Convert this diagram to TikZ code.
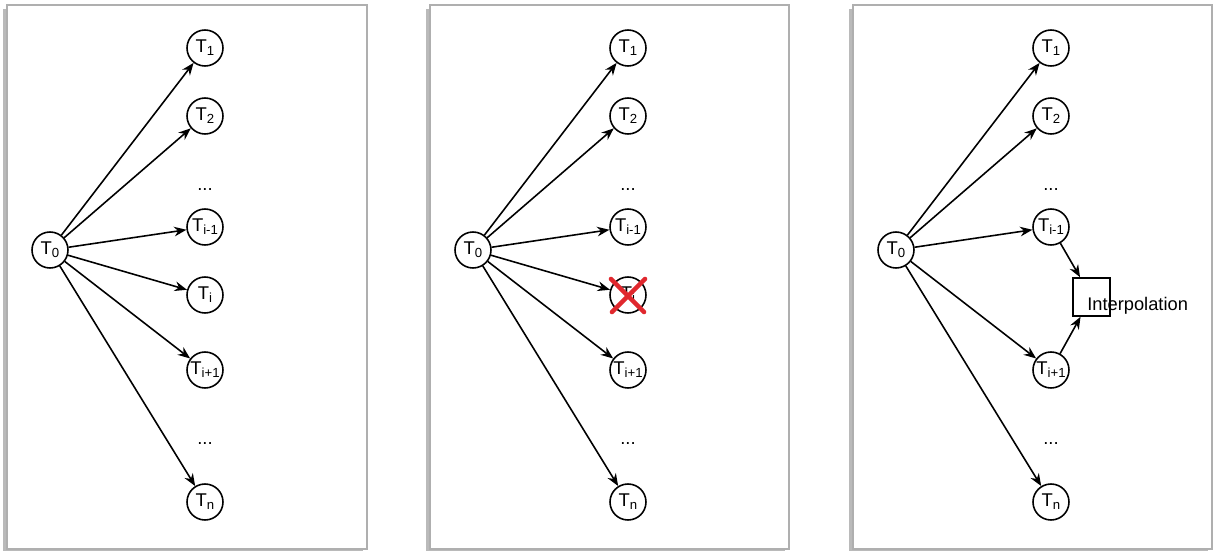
\documentclass[tikz,border=0pt]{standalone}
\usepackage{fontspec}
\setmainfont{Liberation Sans}
\usetikzlibrary{arrows.meta,shadows}
\definecolor{framegray}{RGB}{175,175,175}
\definecolor{crossred}{RGB}{224,40,46}
\newcommand{\tname}[1]{T\raisebox{-0.3ex}{\fontsize{7.5}{8}\selectfont #1}}

\begin{document}
\begin{tikzpicture}[
    x=0.02cm, y=-0.02cm,
    every node/.style={font=\fontsize{10.5}{12}\selectfont},
    panel/.style={draw=framegray, fill=white, line width=0.6pt, drop shadow={shadow xshift=-2.5pt, shadow yshift=-2pt, opacity=0.45, fill=black!60}},
    task/.style={circle, draw, line width=0.9pt, minimum size=0.72cm, inner sep=0pt},
    interp/.style={rectangle, draw, line width=0.9pt, minimum width=0.74cm, minimum height=0.76cm},
    gap/.style={anchor=base, inner sep=0pt},
    arrow/.style={line width=0.9pt,->,>={Stealth[length=7pt,width=5.5pt]}}
]
\useasboundingbox (0,0) rectangle (1218,551);

% Panels
\draw[panel] (7,5) rectangle (367,549);
\draw[panel] (430,5) rectangle (789,549);
\draw[panel] (853,5) rectangle (1212,549);

% Panel 1: all tasks
\node[task] (a0) at (50,250) {\tname{0}};
\node[task] (a1) at (205,48) {\tname{1}};
\node[task] (a2) at (205,116) {\tname{2}};
\node[gap] (a_dots1) at (205,190) {...};
\node[task] (a_im) at (205,227) {\tname{i-1}};
\node[task] (a_i) at (205,295) {\tname{i}};
\node[task] (a_ip) at (205,370) {\tname{i+1}};
\node[gap] (a_dots2) at (205,444) {...};
\node[task] (a_n) at (205,502) {\tname{n}};

\draw[arrow] (a0) -- (a1);
\draw[arrow] (a0) -- (a2);
\draw[arrow] (a0) -- (a_im);
\draw[arrow] (a0) -- (a_i);
\draw[arrow] (a0) -- (a_ip);
\draw[arrow] (a0) -- (a_n);

% Panel 2: missing task
\node[task] (b0) at (473,250) {\tname{0}};
\node[task] (b1) at (628,48) {\tname{1}};
\node[task] (b2) at (628,116) {\tname{2}};
\node[gap] (b_dots1) at (628,190) {...};
\node[task] (b_im) at (628,227) {\tname{i-1}};
\node[task] (b_i) at (628,295) {\tname{i}};
\node[task] (b_ip) at (628,370) {\tname{i+1}};
\node[gap] (b_dots2) at (628,444) {...};
\node[task] (b_n) at (628,502) {\tname{n}};

\draw[arrow] (b0) -- (b1);
\draw[arrow] (b0) -- (b2);
\draw[arrow] (b0) -- (b_im);
\draw[arrow] (b0) -- (b_i);
\draw[arrow] (b0) -- (b_ip);
\draw[arrow] (b0) -- (b_n);

% red cross
\draw[crossred, line width=2.6pt, line cap=round] ([shift={(-17,-16)}]b_i.center) -- ([shift={(16,17)}]b_i.center);
\draw[crossred, line width=2.6pt, line cap=round] ([shift={(17,-16)}]b_i.center) -- ([shift={(-16,17)}]b_i.center);

% Panel 3: interpolation
\node[task] (c0) at (896,250) {\tname{0}};
\node[task] (c1) at (1051,48) {\tname{1}};
\node[task] (c2) at (1051,116) {\tname{2}};
\node[gap] (c_dots1) at (1051,190) {...};
\node[task] (c_im) at (1051,227) {\tname{i-1}};
\node[task] (c_ip) at (1051,370) {\tname{i+1}};
\node[gap] (c_dots2) at (1051,444) {...};
\node[task] (c_n) at (1051,502) {\tname{n}};
\node[interp] (interp) at (1091.5,297) {};
\node[anchor=base west, inner sep=0pt, font=\fontsize{10.4}{12}\selectfont] (interp_text) at (1087,310) {Interpolation};

\draw[arrow] (c0) -- (c1);
\draw[arrow] (c0) -- (c2);
\draw[arrow] (c0) -- (c_im);
\draw[arrow] (c0) -- (c_ip);
\draw[arrow] (c0) -- (c_n);
\draw[arrow] (c_im) -- (interp);
\draw[arrow] (c_ip) -- (interp);

\end{tikzpicture}
\end{document}
